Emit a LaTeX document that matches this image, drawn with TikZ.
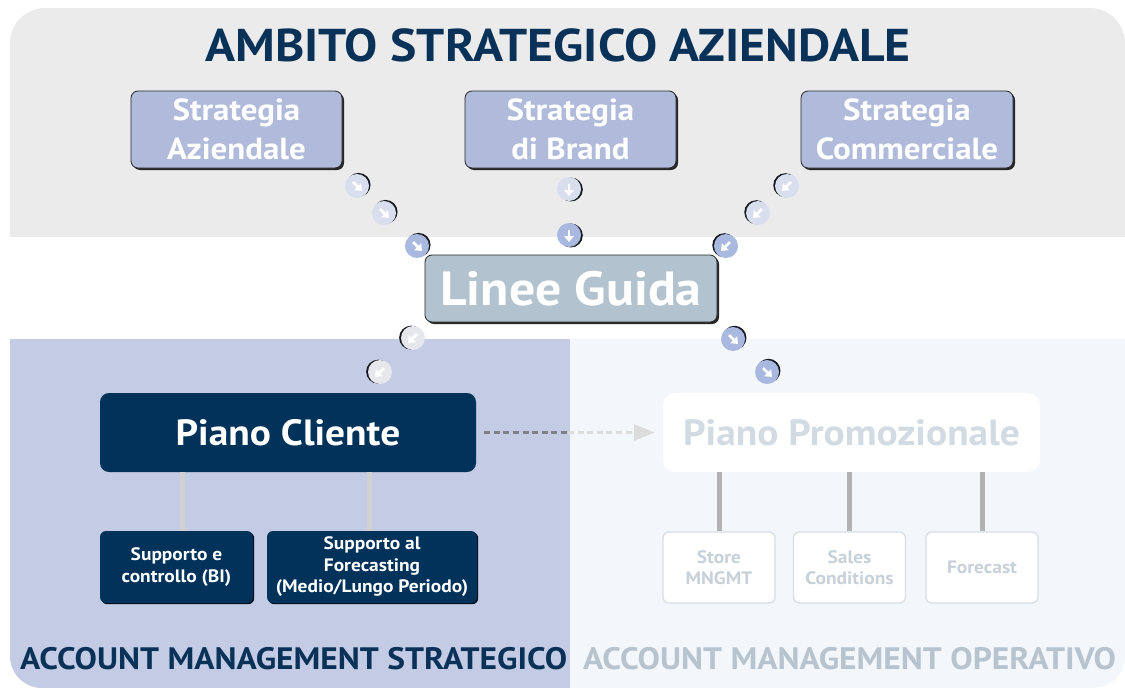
\documentclass[tikz,border=0pt]{standalone}
\usepackage{fontspec}
\setmainfont{PT Sans}[FakeStretch=1.08]
\usetikzlibrary{arrows.meta,shadows}

\definecolor{graybg}{HTML}{EBEBEB}
\definecolor{leftbg}{HTML}{C4CBE4}
\definecolor{rightbg}{HTML}{F3F6FB}
\definecolor{navy}{HTML}{0A3258}
\definecolor{boxnavy}{HTML}{00325A}
\definecolor{stratfill}{HTML}{B0BADB}
\definecolor{lineefill}{HTML}{B3C2CF}
\definecolor{dotpale}{HTML}{D9DEEE}
\definecolor{dotmid}{HTML}{A8B8DF}
\definecolor{dotgray}{HTML}{E6E7EA}
\definecolor{dotshadow}{HTML}{15181E}
\definecolor{promotext}{HTML}{D2DBE4}
\definecolor{subtext}{HTML}{C8D0DA}
\definecolor{subborder}{HTML}{D8DEE5}
\definecolor{oplabel}{HTML}{B7C4D0}
\definecolor{dashdark}{HTML}{808080}
\definecolor{dashlight}{HTML}{DCDCDC}

\tikzset{
  stratbox/.style={rounded corners=7pt, fill=stratfill, draw=black!85, line width=0.8pt,
    drop shadow={shadow xshift=2pt, shadow yshift=-2pt, fill=black!85, opacity=1},
    text=white, align=center, inner sep=0pt,
    font=\bfseries\fontsize{30.5}{39}\selectfont},
  navybox/.style={rounded corners=9pt, fill=boxnavy, text=white, align=center, inner sep=0pt},
  subnavy/.style={navybox, rounded corners=6pt,
    drop shadow={shadow xshift=1.2pt, shadow yshift=-1.2pt, fill=black!70!boxnavy, opacity=1},
    minimum height=72pt, font=\bfseries\fontsize{18}{21.5}\selectfont},
  subwhite/.style={rounded corners=6pt, fill=white, draw=subborder, line width=1.3pt,
    text=subtext, align=center, inner sep=0pt, minimum width=112pt, minimum height=71pt,
    font=\bfseries\fontsize{18}{21.5}\selectfont},
  connleft/.style={draw=black!18, line width=5pt},
  connright/.style={draw=black!30, line width=5pt},
  dashseg/.style={line width=3.4pt, dash pattern=on 6pt off 3.6pt},
  pics/hop/.style n args={3}{code={
    \fill[dotshadow] ({#3}:1.9) circle[radius=12];
    \fill[#2] (0,0) circle[radius=12];
    \draw[white, line width=2.7pt, -{Triangle[length=6pt,width=9.5pt]}] ({#1+180}:5.5) -- ({#1}:7);
  }},
}

\begin{document}
\begin{tikzpicture}[x=1pt,y=-1pt]
\useasboundingbox (0,0) rectangle (1125,688);

% background bands
\begin{scope}
  \clip (0,0) rectangle (1125,236);
  \fill[graybg, rounded corners=35pt] (10,8) rectangle (1125,320);
\end{scope}
\begin{scope}
  \clip (0,339) rectangle (570,688);
  \fill[leftbg, rounded corners=32pt] (10,250) rectangle (700,688);
\end{scope}
\begin{scope}
  \clip (570,339) rectangle (1125,688);
  \fill[rightbg, rounded corners=32pt] (440,250) rectangle (1125,688);
\end{scope}

% heading
\node[text=navy, inner sep=0pt, font=\bfseries\fontsize{46}{46}\selectfont] (title) at (558,45) {AMBITO STRATEGICO AZIENDALE};

% strategy boxes
\node[stratbox, minimum width=211pt, minimum height=77pt] (sa) at (236.5,129.5) {Strategia\\Aziendale};
\node[stratbox, minimum width=211pt, minimum height=77pt] (sb) at (570.5,129.5) {Strategia\\di Brand};
\node[stratbox, minimum width=212pt, minimum height=77pt] (sc) at (907,129.5) {Strategia\\Commerciale};

% guidelines box
\node[stratbox, fill=lineefill, minimum width=292pt, minimum height=67pt,
      font=\bfseries\fontsize{48}{48}\selectfont] (lg) at (571,288.5) {Linee Guida};

% flow markers
\pic (a1) at (357,186) {hop={45}{dotpale}{-35}};
\pic (a2) at (384,213) {hop={45}{dotpale}{-35}};
\pic (a3) at (417,246) {hop={45}{dotmid}{-35}};
\pic (b1) at (569,189) {hop={90}{dotpale}{15}};
\pic (b2) at (569,235) {hop={90}{dotmid}{15}};
\pic (c1) at (787,186) {hop={135}{dotpale}{205}};
\pic (c2) at (758,213) {hop={135}{dotpale}{205}};
\pic (c3) at (726,246) {hop={135}{dotmid}{205}};
\pic (d1) at (413,338) {hop={135}{dotgray}{190}};
\pic (d2) at (380,372) {hop={135}{dotgray}{190}};
\pic (e1) at (733,339) {hop={45}{dotmid}{-40}};
\pic (e2) at (767,372) {hop={45}{dotmid}{-40}};

% plans
\node[navybox, minimum width=376pt, minimum height=79pt,
      font=\bfseries\fontsize{36.5}{36.5}\selectfont] (pc) at (288,432.5) {Piano Cliente};
\node[rounded corners=12pt, fill=white, text=promotext, inner sep=0pt,
      minimum width=377pt, minimum height=79pt,
      font=\bfseries\fontsize{36.5}{36.5}\selectfont] (pp) at (851.5,432.5) {Piano Promozionale};

% dashed link between plans
\coordinate (mid) at (568,432.5);
\draw[dashseg, draw=dashdark, shorten <=8pt] (pc.east) -- (mid);
\draw[dashseg, draw=dashlight, shorten >=8pt, -{Triangle[length=21pt,width=16pt,fill=dashlight]}] (mid) -- (pp.west);

% strategic sub-boxes
\node[subnavy, minimum width=153pt] (s1) at (176.5,567) {Supporto e\\controllo (BI)};
\node[subnavy, minimum width=210pt] (s2) at (372,567) {Supporto al\\Forecasting\\(Medio/Lungo Periodo)};
\draw[connleft] ([xshift=5.5pt]s1.north |- pc.south) -- ([xshift=5.5pt]s1.north);
\draw[connleft] ([xshift=-3pt]s2.north |- pc.south) -- ([xshift=-3pt]s2.north);

% operational sub-boxes
\node[subwhite] (o1) at (719,567.5) {Store\\MNGMT};
\node[subwhite] (o2) at (849.5,567.5) {Sales\\Conditions};
\node[subwhite] (o3) at (982,567.5) {Forecast};
\draw[connright] (o1.north |- pp.south) -- (o1.north);
\draw[connright] (o2.north |- pp.south) -- (o2.north);
\draw[connright] (o3.north |- pp.south) -- (o3.north);

% area labels
\node[text=navy, inner sep=0pt, font=\bfseries\fontsize{31}{31}\selectfont, anchor=west] (ls) at (20,659) {ACCOUNT MANAGEMENT STRATEGICO};
\node[text=oplabel, inner sep=0pt, font=\bfseries\fontsize{31}{31}\selectfont, anchor=west] (lo) at (583,659) {ACCOUNT MANAGEMENT OPERATIVO};
\end{tikzpicture}
\end{document}
